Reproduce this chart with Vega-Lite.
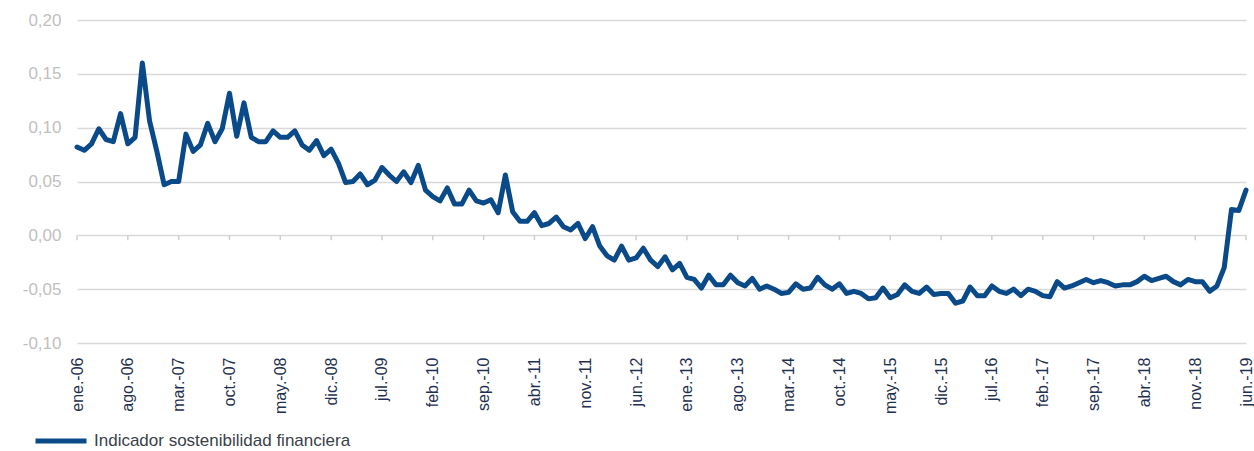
{
  "$schema": "https://vega.github.io/schema/vega-lite/v6.json",
  "width": 1169,
  "height": 323,
  "autosize": "none",
  "padding": {"left": 77, "top": 20, "right": 8, "bottom": 108},
  "background": "white",
  "config": {"view": {"stroke": null}, "font": "Liberation Sans"},
  "layer": [
    {
      "data": {"values": [
        {"d": "2006-01"}, {"d": "2006-08"}, {"d": "2007-03"}, {"d": "2007-10"}, {"d": "2008-05"}, {"d": "2008-12"},
        {"d": "2009-07"}, {"d": "2010-02"}, {"d": "2010-09"}, {"d": "2011-04"}, {"d": "2011-11"}, {"d": "2012-06"},
        {"d": "2013-01"}, {"d": "2013-08"}, {"d": "2014-03"}, {"d": "2014-10"}, {"d": "2015-05"}, {"d": "2015-12"},
        {"d": "2016-07"}, {"d": "2017-02"}, {"d": "2017-09"}, {"d": "2018-04"}, {"d": "2018-11"}, {"d": "2019-06"}
      ]},
      "mark": {"type": "rule", "color": "#d0d0d0", "strokeWidth": 1.5},
      "encoding": {
        "x": {"field": "d", "type": "ordinal"},
        "y": {"datum": 0, "type": "quantitative"},
        "y2": {"datum": -0.0045}
      }
    },
    {
      "data": {"values": [
        {"d": "2006-01", "v": 0.082}, {"d": "2006-02", "v": 0.079}, {"d": "2006-03", "v": 0.085}, {"d": "2006-04", "v": 0.099},
        {"d": "2006-05", "v": 0.089}, {"d": "2006-06", "v": 0.087}, {"d": "2006-07", "v": 0.113}, {"d": "2006-08", "v": 0.085},
        {"d": "2006-09", "v": 0.091}, {"d": "2006-10", "v": 0.160}, {"d": "2006-11", "v": 0.106}, {"d": "2006-12", "v": 0.078},
        {"d": "2007-01", "v": 0.047}, {"d": "2007-02", "v": 0.050}, {"d": "2007-03", "v": 0.050}, {"d": "2007-04", "v": 0.094},
        {"d": "2007-05", "v": 0.078}, {"d": "2007-06", "v": 0.084}, {"d": "2007-07", "v": 0.104}, {"d": "2007-08", "v": 0.087},
        {"d": "2007-09", "v": 0.099}, {"d": "2007-10", "v": 0.132}, {"d": "2007-11", "v": 0.092}, {"d": "2007-12", "v": 0.123},
        {"d": "2008-01", "v": 0.091}, {"d": "2008-02", "v": 0.087}, {"d": "2008-03", "v": 0.087}, {"d": "2008-04", "v": 0.097},
        {"d": "2008-05", "v": 0.091}, {"d": "2008-06", "v": 0.091}, {"d": "2008-07", "v": 0.097}, {"d": "2008-08", "v": 0.084},
        {"d": "2008-09", "v": 0.079}, {"d": "2008-10", "v": 0.088}, {"d": "2008-11", "v": 0.074}, {"d": "2008-12", "v": 0.080},
        {"d": "2009-01", "v": 0.067}, {"d": "2009-02", "v": 0.049}, {"d": "2009-03", "v": 0.050}, {"d": "2009-04", "v": 0.057},
        {"d": "2009-05", "v": 0.047}, {"d": "2009-06", "v": 0.051}, {"d": "2009-07", "v": 0.063}, {"d": "2009-08", "v": 0.056},
        {"d": "2009-09", "v": 0.050}, {"d": "2009-10", "v": 0.059}, {"d": "2009-11", "v": 0.049}, {"d": "2009-12", "v": 0.065},
        {"d": "2010-01", "v": 0.042}, {"d": "2010-02", "v": 0.036}, {"d": "2010-03", "v": 0.032}, {"d": "2010-04", "v": 0.044},
        {"d": "2010-05", "v": 0.029}, {"d": "2010-06", "v": 0.029}, {"d": "2010-07", "v": 0.042}, {"d": "2010-08", "v": 0.032},
        {"d": "2010-09", "v": 0.030}, {"d": "2010-10", "v": 0.033}, {"d": "2010-11", "v": 0.021}, {"d": "2010-12", "v": 0.056},
        {"d": "2011-01", "v": 0.022}, {"d": "2011-02", "v": 0.013}, {"d": "2011-03", "v": 0.013}, {"d": "2011-04", "v": 0.021},
        {"d": "2011-05", "v": 0.009}, {"d": "2011-06", "v": 0.011}, {"d": "2011-07", "v": 0.017}, {"d": "2011-08", "v": 0.008},
        {"d": "2011-09", "v": 0.005}, {"d": "2011-10", "v": 0.011}, {"d": "2011-11", "v": -0.003}, {"d": "2011-12", "v": 0.008},
        {"d": "2012-01", "v": -0.010}, {"d": "2012-02", "v": -0.019}, {"d": "2012-03", "v": -0.023}, {"d": "2012-04", "v": -0.010},
        {"d": "2012-05", "v": -0.023}, {"d": "2012-06", "v": -0.021}, {"d": "2012-07", "v": -0.012}, {"d": "2012-08", "v": -0.023},
        {"d": "2012-09", "v": -0.029}, {"d": "2012-10", "v": -0.020}, {"d": "2012-11", "v": -0.032}, {"d": "2012-12", "v": -0.026},
        {"d": "2013-01", "v": -0.039}, {"d": "2013-02", "v": -0.041}, {"d": "2013-03", "v": -0.049}, {"d": "2013-04", "v": -0.037},
        {"d": "2013-05", "v": -0.046}, {"d": "2013-06", "v": -0.046}, {"d": "2013-07", "v": -0.037}, {"d": "2013-08", "v": -0.044},
        {"d": "2013-09", "v": -0.047}, {"d": "2013-10", "v": -0.040}, {"d": "2013-11", "v": -0.050}, {"d": "2013-12", "v": -0.047},
        {"d": "2014-01", "v": -0.050}, {"d": "2014-02", "v": -0.054}, {"d": "2014-03", "v": -0.053}, {"d": "2014-04", "v": -0.045},
        {"d": "2014-05", "v": -0.050}, {"d": "2014-06", "v": -0.049}, {"d": "2014-07", "v": -0.039}, {"d": "2014-08", "v": -0.046},
        {"d": "2014-09", "v": -0.050}, {"d": "2014-10", "v": -0.045}, {"d": "2014-11", "v": -0.054}, {"d": "2014-12", "v": -0.052},
        {"d": "2015-01", "v": -0.054}, {"d": "2015-02", "v": -0.059}, {"d": "2015-03", "v": -0.058}, {"d": "2015-04", "v": -0.049},
        {"d": "2015-05", "v": -0.058}, {"d": "2015-06", "v": -0.055}, {"d": "2015-07", "v": -0.046}, {"d": "2015-08", "v": -0.052},
        {"d": "2015-09", "v": -0.054}, {"d": "2015-10", "v": -0.048}, {"d": "2015-11", "v": -0.055}, {"d": "2015-12", "v": -0.054},
        {"d": "2016-01", "v": -0.054}, {"d": "2016-02", "v": -0.063}, {"d": "2016-03", "v": -0.061}, {"d": "2016-04", "v": -0.048},
        {"d": "2016-05", "v": -0.056}, {"d": "2016-06", "v": -0.056}, {"d": "2016-07", "v": -0.047}, {"d": "2016-08", "v": -0.052},
        {"d": "2016-09", "v": -0.054}, {"d": "2016-10", "v": -0.050}, {"d": "2016-11", "v": -0.056}, {"d": "2016-12", "v": -0.050},
        {"d": "2017-01", "v": -0.052}, {"d": "2017-02", "v": -0.056}, {"d": "2017-03", "v": -0.057}, {"d": "2017-04", "v": -0.043},
        {"d": "2017-05", "v": -0.049}, {"d": "2017-06", "v": -0.047}, {"d": "2017-07", "v": -0.044}, {"d": "2017-08", "v": -0.041},
        {"d": "2017-09", "v": -0.044}, {"d": "2017-10", "v": -0.042}, {"d": "2017-11", "v": -0.044}, {"d": "2017-12", "v": -0.047},
        {"d": "2018-01", "v": -0.046}, {"d": "2018-02", "v": -0.046}, {"d": "2018-03", "v": -0.043}, {"d": "2018-04", "v": -0.038},
        {"d": "2018-05", "v": -0.042}, {"d": "2018-06", "v": -0.040}, {"d": "2018-07", "v": -0.038}, {"d": "2018-08", "v": -0.043},
        {"d": "2018-09", "v": -0.046}, {"d": "2018-10", "v": -0.041}, {"d": "2018-11", "v": -0.043}, {"d": "2018-12", "v": -0.043},
        {"d": "2019-01", "v": -0.052}, {"d": "2019-02", "v": -0.047}, {"d": "2019-03", "v": -0.030}, {"d": "2019-04", "v": 0.024},
        {"d": "2019-05", "v": 0.023}, {"d": "2019-06", "v": 0.042}
      ]},
      "mark": {"type": "line", "strokeWidth": 5, "strokeJoin": "round", "strokeCap": "round"},
      "encoding": {
        "x": {
          "field": "d", "type": "ordinal",
          "scale": {"type": "point", "padding": 0},
          "axis": {
            "values": ["2006-01", "2006-08", "2007-03", "2007-10", "2008-05", "2008-12", "2009-07", "2010-02", "2010-09", "2011-04", "2011-11", "2012-06", "2013-01", "2013-08", "2014-03", "2014-10", "2015-05", "2015-12", "2016-07", "2017-02", "2017-09", "2018-04", "2018-11", "2019-06"],
            "labelExpr": "['ene.','feb.','mar.','abr.','may.','jun.','jul.','ago.','sep.','oct.','nov.','dic.'][toNumber(substring(datum.value,5,7))-1] + '-' + substring(datum.value,2,4)",
            "labelAngle": -90,
            "labelAlign": "right",
            "labelBaseline": "middle",
            "labelFontSize": 16,
            "labelColor": "#1f3150",
            "labelPadding": 14,
            "labelOverlap": false,
            "labelBound": false,
            "ticks": false,
            "domain": false,
            "grid": false,
            "title": null
          }
        },
        "y": {
          "field": "v", "type": "quantitative",
          "scale": {"domain": [-0.1, 0.2], "nice": false, "zero": false},
          "axis": {
            "values": [-0.1, -0.05, 0, 0.05, 0.1, 0.15, 0.2],
            "labelExpr": "replace(replace(format(datum.value,'.2f'),'.',','),'−','-')",
            "labelColor": "#bfbfbf",
            "labelFontSize": 17,
            "labelPadding": 16,
            "ticks": false,
            "domain": false,
            "grid": true,
            "gridColor": "#d9d9d9",
            "gridWidth": 1.5,
            "title": null
          }
        },
        "color": {
          "datum": "Indicador sostenibilidad financiera",
          "type": "nominal",
          "scale": {"range": ["#0a4a88"]},
          "legend": {
            "orient": "none",
            "legendX": -44,
            "legendY": 393,
            "title": null,
            "symbolType": "stroke",
            "symbolSize": 2600,
            "symbolStrokeWidth": 5,
            "labelFontSize": 17,
            "labelColor": "#3a3f4a",
            "labelOffset": 5,
            "labelLimit": 0,
            "padding": 0
          }
        }
      }
    }
  ]
}
